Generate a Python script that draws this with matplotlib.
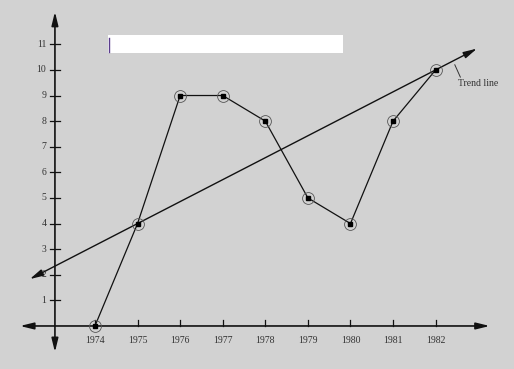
import matplotlib
matplotlib.use("Agg")
import matplotlib.pyplot as plt
from matplotlib.patches import Rectangle
from matplotlib.lines import Line2D

# ---- data ----
years = [1974, 1975, 1976, 1977, 1978, 1979, 1980, 1981, 1982]
values = [0, 4, 9, 9, 8, 5, 4, 8, 10]
year_labels = ["1974", "1975", "1976", "1977", "1978", "1979", "1980", "1981", "1982"]
y_ticks = [1, 2, 3, 4, 5, 6, 7, 8, 9, 10, 11]
y_tick_labels = ["1", "2", "3", "4", "5", "6", "7", "8", "9", "10", "11"]
trend_anchor_years = [1975, 1982]
trend_anchor_values = [4, 10]
trend_label = "Trend line"

# ---- style ----
bg = "#d2d2d2"
ink = "#111111"
font = ["Liberation Serif", "DejaVu Serif"]
arrow = "<|-|>,head_length=0.9,head_width=0.22"

fig = plt.figure(figsize=(5.14, 3.69), dpi=100)
fig.patch.set_facecolor(bg)
ax = fig.add_axes([0, 0, 1, 1])
ax.set_xlim(1971.77, 1983.84)
ax.set_ylim(-1.68, 12.73)
ax.axis("off")

y_axis_x = 1973.06

# axes with arrows
ax.annotate("", xy=(1983.27, 0), xytext=(1972.24, 0),
            arrowprops=dict(arrowstyle=arrow, color=ink, lw=1.2,
                            shrinkA=0, shrinkB=0, mutation_scale=9))
ax.annotate("", xy=(y_axis_x, 12.27), xytext=(y_axis_x, -1.02),
            arrowprops=dict(arrowstyle=arrow, color=ink, lw=1.2,
                            shrinkA=0, shrinkB=0, mutation_scale=9))

# x ticks and labels
for yr, lab in zip(years, year_labels):
    ax.plot([yr, yr], [0, 0.22], color=ink, lw=0.9)
    ax.text(yr, -0.55, lab, ha="center", va="center", fontsize=7,
            family=font, color="#333333")

# y ticks and labels
for v, lab in zip(y_ticks, y_tick_labels):
    ax.plot([y_axis_x - 0.12, y_axis_x + 0.12], [v, v], color=ink, lw=0.9)
    ax.text(y_axis_x - 0.2, v, lab, ha="right", va="center", fontsize=7,
            family=font, color="#333333")

# data line
ax.plot(years, values, color=ink, lw=0.9, zorder=3)
ax.plot(years, values, ls="none", marker="o", ms=8.5, mfc="none",
        mec="#555555", mew=0.6, zorder=4)
ax.plot(years, values, ls="none", marker="s", ms=3, color="black", zorder=5)

# trend line through anchor points, extended with arrowheads
slope = (trend_anchor_values[1] - trend_anchor_values[0]) / (trend_anchor_years[1] - trend_anchor_years[0])
x_left, x_right = 1972.47, 1982.97
y_left = trend_anchor_values[0] + slope * (x_left - trend_anchor_years[0])
y_right = trend_anchor_values[0] + slope * (x_right - trend_anchor_years[0])
ax.annotate("", xy=(x_right, y_right), xytext=(x_left, y_left),
            arrowprops=dict(arrowstyle=arrow, color=ink, lw=1.0,
                            shrinkA=0, shrinkB=0, mutation_scale=9),
            zorder=2)

# trend label with leader
ax.plot([1982.45, 1982.58], [10.2, 9.72], color="#333333", lw=0.7)
ax.text(1982.52, 9.45, trend_label, ha="left", va="center", fontsize=7,
        family=font, color="#333333")

# redaction box
fig.patches.append(Rectangle((108 / 514, 1 - 53 / 369), 235 / 514, 18 / 369,
                             transform=fig.transFigure, facecolor="white",
                             edgecolor="none", zorder=10))
fig.lines.append(Line2D([108.5 / 514, 108.5 / 514], [1 - 38 / 369, 1 - 52 / 369],
                        transform=fig.transFigure, color="#5a3c8c", lw=1.0, zorder=11))

fig.savefig("out.png", dpi=100, facecolor=bg)
